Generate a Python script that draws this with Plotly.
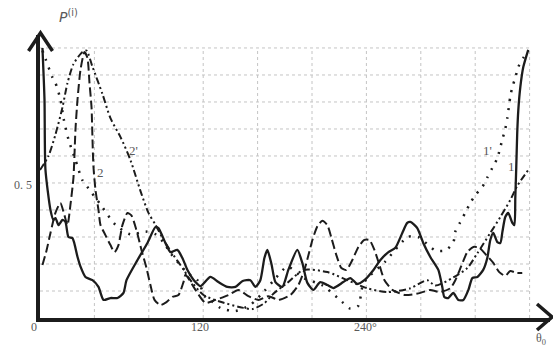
import plotly.graph_objects as go

# ---- data (theta in degrees, P values) ----
solid_theta = [1.8,3.3,4,7.7,9.9,11.4,13.6,16.5,18.7,20.9,23.9,27.6,29.8,33.4,38.6,43,46.7,51.8,57,61.4,63.6,71.7,79,84.9,87.1,92.2,95.9,101,104.7,108.4,114.3,118,125.3,131.2,137.8,143.7,149,154.7,158.4,162,165,167.2,170.2,173.1,178.2,182.6,189.2,192.9,196.6,201,206,211.3,215.7,223,228.2,233.4,238.5,245.2,250.3,256.2,261.3,266.4,270,272.3,277.4,281.8,287,292.9,295.8,297.3,300.2,303.9,307.6,311.3,315,317.9,321.6,325.9,328.9,331.1,333.3,336.3,338.5,340,342.1,344.3,347.3,348.8,349.5,350.2,350.9,351.7,353.2,355.4,359]
solid_P = [1.0,0.81,0.55,0.40,0.363,0.37,0.344,0.363,0.356,0.30,0.296,0.226,0.19,0.152,0.14,0.115,0.067,0.074,0.074,0.093,0.14,0.215,0.278,0.337,0.333,0.278,0.244,0.252,0.222,0.178,0.133,0.118,0.152,0.133,0.115,0.115,0.137,0.14,0.115,0.14,0.222,0.252,0.2,0.133,0.115,0.178,0.252,0.204,0.13,0.104,0.133,0.122,0.111,0.133,0.148,0.126,0.14,0.178,0.215,0.244,0.26,0.315,0.352,0.356,0.333,0.278,0.226,0.178,0.115,0.078,0.074,0.093,0.067,0.067,0.104,0.148,0.152,0.178,0.222,0.289,0.315,0.281,0.278,0.319,0.374,0.389,0.352,0.344,0.448,0.559,0.685,0.77,0.856,0.93,0.993]

dash_theta = [1.8,4.8,7.7,11.4,15,18,20.2,22.4,24.6,26.1,27.6,29.8,32.7,34.9,36.4,37.9,38.6,39.3,40.8,43,44.5,48.1,51.8,54.8,57.7,60.6,64.3,67.2,70.9,74.6,78.3,81.2,84.2,88.6,93,97.4,101.8,105.5,107,114.3,121.6,129,138.5,145.9,153.2,160.6,168,175.3,184.1,190,194.4,197.4,200.3,204,207.6,211.3,214.3,217.9,221.6,225.3,229.7,234.1,238.5,242.2,245.9,249.6,253.2,259.1,268.6,279.6,287,294,301.7,305.4,309.8,314.2,318.6,323,328.2,333.3,337.7,342.1,345.8,350.2,354.6]
dash_P = [0.196,0.25,0.315,0.39,0.426,0.38,0.344,0.42,0.52,0.70,0.81,0.92,0.985,0.963,0.87,0.78,0.66,0.56,0.474,0.40,0.344,0.307,0.27,0.244,0.27,0.344,0.389,0.38,0.326,0.252,0.185,0.122,0.067,0.048,0.059,0.078,0.085,0.133,0.16,0.104,0.056,0.067,0.085,0.104,0.081,0.067,0.081,0.067,0.085,0.122,0.178,0.233,0.289,0.34,0.36,0.344,0.296,0.233,0.185,0.178,0.215,0.263,0.289,0.289,0.252,0.196,0.141,0.104,0.085,0.093,0.104,0.096,0.11,0.14,0.193,0.244,0.263,0.26,0.233,0.204,0.17,0.156,0.174,0.167,0.167]

dd_theta = [0,6.2,11.4,16.5,20.2,24.6,31.2,34.2,38.6,45.9,51.8,59.2,66.5,73.9,79.7,84.9,90.8,98.1,105.5,110.6,120.2,132.7,147.4,156.2,165,171.6,181.9,193.7,211.3,226,240.7,255.4,272.3,284.8,290.6,303.9,314.2,321.6,331.1,338.5,345.8,351,359]
dd_P = [0.548,0.60,0.68,0.78,0.87,0.94,0.985,0.99,0.93,0.83,0.74,0.67,0.585,0.47,0.39,0.345,0.29,0.233,0.18,0.14,0.085,0.06,0.04,0.033,0.055,0.09,0.13,0.178,0.17,0.14,0.11,0.096,0.11,0.14,0.12,0.15,0.185,0.24,0.315,0.374,0.437,0.49,0.548]

dot_theta = [1.8,4,9.2,11.4,15,17.3,21,26.1,31.2,35.6,44.5,55.5,66.5,77.5,85,90.8,96,108.4,115.8,121.6,126.8,132.7,143.7,155,165,172,182,193,208,222,228,234,238,254,270.4,278,283.3,290.7,298,303.9,305.4,309,312.7,316.4,320,325.2,328.9,332.6,336.3,339.9,342.1,343.6,345.8,347.3,349.5,351.7,355.4,359]
dot_P = [0.99,0.96,0.89,0.87,0.81,0.74,0.66,0.585,0.51,0.48,0.42,0.345,0.31,0.32,0.31,0.28,0.24,0.167,0.14,0.078,0.06,0.037,0.026,0.05,0.1,0.14,0.19,0.15,0.12,0.06,0.035,0.045,0.13,0.21,0.30,0.30,0.28,0.25,0.25,0.28,0.32,0.355,0.39,0.426,0.455,0.485,0.52,0.556,0.593,0.66,0.70,0.74,0.82,0.855,0.89,0.93,0.963,0.99]

curve_labels = ["2'", "2", "1'", "1"]
label_theta = [68.7, 44.5, 328.9, 346.5]
label_P = [0.622, 0.54, 0.622, 0.56]

x_tick_text = ["0", "120", "240°"]
grid_theta = [40, 80, 120, 160, 200, 240, 280, 320, 360]
grid_P = [0.1, 0.2, 0.3, 0.4, 0.5, 0.6, 0.7, 0.8, 0.9, 1.0]

INK = "#1c1c1c"
GREY = "#5a5a5a"
GRID = "#c4c4c4"

fig = go.Figure()
fig.add_trace(go.Scatter(x=dd_theta, y=dd_P, mode="lines",
                         line=dict(color=INK, width=2, dash="7px,3px,2px,3px,2px,3px", shape="spline", smoothing=0.7)))
fig.add_trace(go.Scatter(x=dash_theta, y=dash_P, mode="lines",
                         line=dict(color=INK, width=2, dash="9px,4px", shape="spline", smoothing=0.6)))
fig.add_trace(go.Scatter(x=dot_theta, y=dot_P, mode="lines",
                         line=dict(color=INK, width=2.5, dash="2px,7px", shape="spline", smoothing=0.7)))
fig.add_trace(go.Scatter(x=solid_theta, y=solid_P, mode="lines",
                         line=dict(color=INK, width=2.3, shape="spline", smoothing=0.6)))

L, R, T, B = 39.5, 3, 35, 31
W, H = 553, 349
pw, ph = W - L - R, H - T - B

def px(xp):
    return (xp - L) / pw

def py(yp):
    return (H - B - yp) / ph

annotations = []
for t, th, p in zip(curve_labels, label_theta, label_P):
    annotations.append(dict(x=th, y=p, xref="x", yref="y", text=t, showarrow=False,
                            xanchor="center", yanchor="middle",
                            font=dict(family="Liberation Serif", size=13, color=GREY)))
tick_px = [33, 200, 365]
for txt, xp in zip(x_tick_text, tick_px):
    annotations.append(dict(x=px(xp), y=py(327), xref="paper", yref="paper", text=txt,
                            xanchor="center", yanchor="middle",
                            showarrow=False, font=dict(family="Liberation Serif", size=12, color=GREY)))
annotations.append(dict(x=px(541), y=py(339), xref="paper", yref="paper", text="θ<sub>0</sub>",
                        xanchor="center", yanchor="middle",
                        showarrow=False, font=dict(family="Liberation Serif", size=12, color=GREY)))
annotations.append(dict(x=px(22), y=py(185), xref="paper", yref="paper", text="0. 5",
                        xanchor="center", yanchor="middle",
                        showarrow=False, font=dict(family="Liberation Serif", size=12, color=GREY)))
annotations.append(dict(x=px(68), y=py(16), xref="paper", yref="paper", text="<i>P</i><sup>(i)</sup>",
                        xanchor="center", yanchor="middle",
                        showarrow=False, font=dict(family="DejaVu Sans", size=14, color=GREY)))

shapes = []
gx_max = max(grid_theta)
gy_max = max(grid_P)
for g in grid_theta:
    shapes.append(dict(type="line", xref="x", yref="y", x0=g, x1=g, y0=0, y1=gy_max, layer="below",
                       line=dict(color=GRID, width=1, dash="dot")))
for g in grid_P:
    shapes.append(dict(type="line", xref="x", yref="y", x0=0, x1=gx_max, y0=g, y1=g, layer="below",
                       line=dict(color=GRID, width=1, dash="dot")))
shapes += [
    dict(type="path", xref="paper", yref="paper",
         path=f"M {px(28)} {py(51)} L {px(40)} {py(33)} L {px(52)} {py(51)}",
         line=dict(color=INK, width=3.5)),
    dict(type="path", xref="paper", yref="paper",
         path=f"M {px(537)} {py(304)} L {px(552)} {py(317)} L {px(537)} {py(330)}",
         line=dict(color=INK, width=3.5)),
]

fig.update_layout(
    width=W, height=H, margin=dict(l=L, r=R, t=T, b=B),
    paper_bgcolor="white", plot_bgcolor="white", showlegend=False,
    annotations=annotations, shapes=shapes,
    xaxis=dict(range=[0, 375], showgrid=False, showticklabels=False, ticks="", zeroline=False,
               showline=True, linecolor=INK, linewidth=3.5),
    yaxis=dict(range=[0, 1.048], showgrid=False, showticklabels=False, ticks="", zeroline=False,
               showline=True, linecolor=INK, linewidth=3.5),
)
fig.write_html("out.html", config={"displayModeBar": False},
               post_script="document.body.style.margin='0';document.body.style.overflow='hidden';")
